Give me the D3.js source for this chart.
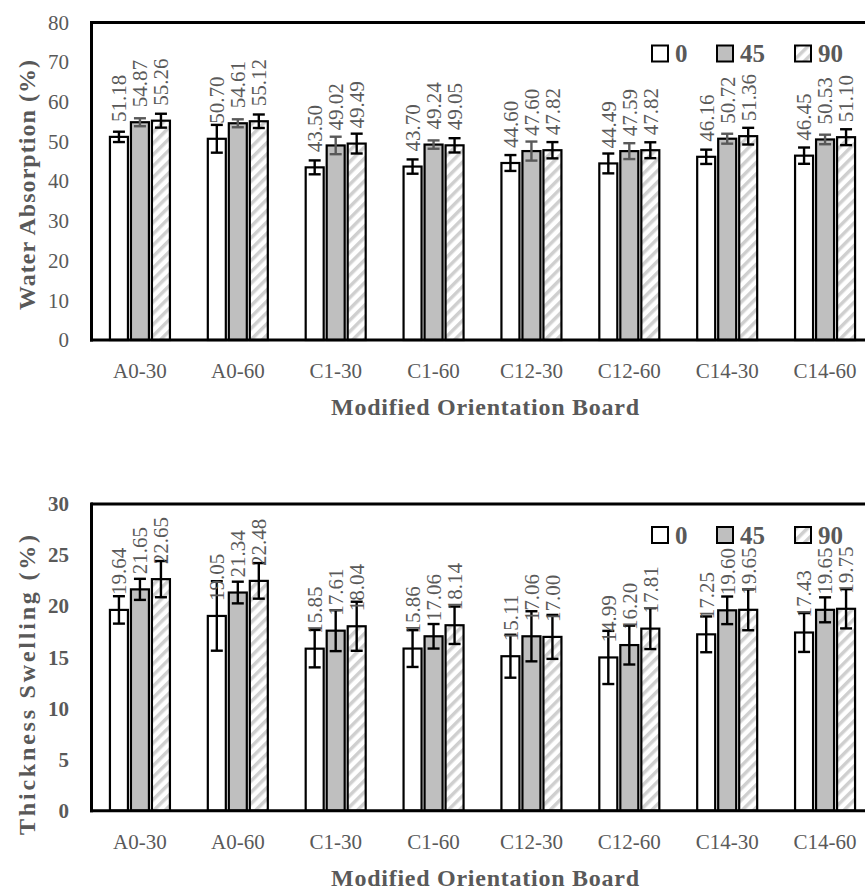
<!DOCTYPE html>
<html>
<head>
<meta charset="utf-8">
<script src="https://cdn.jsdelivr.net/npm/d3@7"></script>
<style>
body { margin: 0; background: #fff; }
svg { display: block; }
</style>
</head>
<body>
<svg id="chart" width="865" height="890"></svg>
<script>
'use strict';

var categories = ["A0-30", "A0-60", "C1-30", "C1-60", "C12-30", "C12-60", "C14-30", "C14-60"];
var series = ["0", "45", "90"];

// water absorption (%)
var water0   = [51.18, 50.70, 43.50, 43.70, 44.60, 44.49, 46.16, 46.45];
var water45  = [54.87, 54.61, 49.02, 49.24, 47.60, 47.59, 50.72, 50.53];
var water90  = [55.26, 55.12, 49.49, 49.05, 47.82, 47.82, 51.36, 51.10];
var waterErr0  = [1.3, 3.5, 1.75, 1.8, 2.0, 2.5, 1.8, 2.05];
var waterErr45 = [1.0, 1.0, 2.2, 1.05, 2.4, 2.0, 1.25, 1.2];
var waterErr90 = [1.75, 1.7, 2.5, 1.8, 2.05, 2.0, 2.1, 2.0];
var waterTicks = [0, 10, 20, 30, 40, 50, 60, 70, 80];

// thickness swelling (%)
var swell0   = [19.64, 19.05, 15.85, 15.86, 15.11, 14.99, 17.25, 17.43];
var swell45  = [21.65, 21.34, 17.61, 17.06, 17.06, 16.20, 19.60, 19.65];
var swell90  = [22.65, 22.48, 18.04, 18.14, 17.00, 17.81, 19.65, 19.75];
var swellErr0  = [1.34, 3.4, 1.83, 1.8, 2.1, 2.6, 1.75, 1.9];
var swellErr45 = [1.03, 1.06, 2.0, 1.2, 2.45, 1.9, 1.35, 1.22];
var swellErr90 = [1.77, 1.74, 2.4, 1.83, 2.15, 2.0, 2.0, 1.92];
var swellTicks = [0, 5, 10, 15, 20, 25, 30];

var FONT = "'Liberation Serif', 'Times New Roman', serif",
    GREY = "#595959",
    fills = ["#ffffff", "#bfbfbf", "url(#hatch)"];

var svg = d3.select("#chart");

// diagonal hatch for the 90 series
var pat = svg.append("defs").append("pattern")
    .attr("id", "hatch")
    .attr("patternUnits", "userSpaceOnUse")
    .attr("width", 8).attr("height", 8)
    .attr("patternTransform", "rotate(45)");
pat.append("rect").attr("width", 8).attr("height", 8).attr("fill", "#fff");
pat.append("rect").attr("width", 3.5).attr("height", 8).attr("fill", "#cfcfcf");

function bar_chart(o) {
    var g = svg.append("g"),
        x0 = d3.scaleBand().domain(categories).range([91, 874]),
        x1 = d3.scaleBand().domain(series).range([0, 60]).paddingInner(1/7),
        y  = d3.scaleLinear().domain([0, o.ticks[o.ticks.length-1]]).range([o.bottom, o.top]);

    var rows = [];
    categories.forEach(function(c, i){
        series.forEach(function(s, j){
            rows.push({cat: c, s: s, j: j, v: o.values[j][i], e: o.errors[j][i]});
        });
    });
    function cx(d){ return x0(d.cat) + x0.bandwidth()/2 - 30 + x1(d.s) + x1.bandwidth()/2; }

    // bars
    g.selectAll("rect.bar").data(rows).enter().append("rect")
        .attr("class", "bar")
        .attr("x", function(d){ return cx(d) - x1.bandwidth()/2; })
        .attr("width", x1.bandwidth())
        .attr("y", function(d){ return y(d.v); })
        .attr("height", function(d){ return y(0) - y(d.v); })
        .attr("fill", function(d){ return fills[d.j]; })
        .attr("stroke", "#000")
        .attr("stroke-width", 2.2);

    // error bars
    var eb = g.selectAll("g.err").data(rows).enter().append("g")
        .attr("stroke", function(d){ return o.errColors[d.j]; })
        .attr("stroke-width", 2.4);
    eb.append("line")
        .attr("x1", cx).attr("x2", cx)
        .attr("y1", function(d){ return y(d.v + d.e); })
        .attr("y2", function(d){ return y(d.v - d.e); });
    [1, -1].forEach(function(sgn){
        eb.append("line")
            .attr("x1", function(d){ return cx(d) - 6; })
            .attr("x2", function(d){ return cx(d) + 6; })
            .attr("y1", function(d){ return y(d.v + sgn*d.e); })
            .attr("y2", function(d){ return y(d.v + sgn*d.e); });
    });

    // value labels
    g.selectAll("text.val").data(rows).enter().append("text")
        .attr("transform", function(d){ return "translate(" + cx(d) + "," + (y(d.v) - 15) + ") rotate(-90)"; })
        .attr("dy", "0.35em")
        .attr("font-family", FONT)
        .attr("font-size", 21)
        .attr("fill", GREY)
        .text(function(d){ return d.v.toFixed(2); });

    // frame
    g.append("line").attr("x1", 91).attr("x2", 874).attr("y1", o.top).attr("y2", o.top)
        .attr("stroke", "#000").attr("stroke-width", 3);
    g.append("line").attr("x1", 91.5).attr("x2", 91.5).attr("y1", o.top - 1.5).attr("y2", o.bottom + 1.5)
        .attr("stroke", "#000").attr("stroke-width", 3);
    g.append("line").attr("x1", 90).attr("x2", 874).attr("y1", o.bottom).attr("y2", o.bottom)
        .attr("stroke", "#000").attr("stroke-width", 3);

    // y axis labels
    var ya = g.append("g").attr("transform", "translate(91,0)")
        .call(d3.axisLeft(y).tickValues(o.ticks).tickSize(0).tickPadding(22));
    ya.select(".domain").remove();
    ya.selectAll("text")
        .attr("font-family", FONT).attr("font-size", 21)
        .attr("font-weight", o.boldTicks ? "bold" : "normal")
        .attr("fill", GREY);

    // x axis labels
    var xa = g.append("g").attr("transform", "translate(0," + o.bottom + ")")
        .call(d3.axisBottom(x0).tickSize(0).tickPadding(23));
    xa.select(".domain").remove();
    xa.selectAll("text")
        .attr("font-family", FONT).attr("font-size", 21).attr("fill", GREY);

    // titles
    g.append("text")
        .attr("transform", "translate(35," + o.yTitleMid + ") rotate(-90)")
        .attr("text-anchor", "middle")
        .attr("font-family", FONT).attr("font-size", 24).attr("font-weight", "bold")
        .attr("fill", GREY)
        .attr("textLength", o.yTitleLen).attr("lengthAdjust", "spacing")
        .text(o.yTitle);
    g.append("text")
        .attr("x", 485).attr("y", o.bottom + 75)
        .attr("text-anchor", "middle")
        .attr("font-family", FONT).attr("font-size", 24).attr("font-weight", "bold")
        .attr("fill", GREY)
        .attr("textLength", 308).attr("lengthAdjust", "spacing")
        .text("Modified Orientation Board");

    // legend
    var lx = [652, 717, 795];
    var lg = g.selectAll("g.leg").data(series).enter().append("g")
        .attr("transform", function(d, i){ return "translate(" + lx[i] + "," + (o.top + 23) + ")"; });
    lg.append("rect")
        .attr("width", 16).attr("height", 16)
        .attr("fill", function(d, i){ return fills[i]; })
        .attr("stroke", "#000").attr("stroke-width", 2);
    lg.append("text")
        .attr("x", 23).attr("y", 16.5)
        .attr("font-family", FONT).attr("font-size", 25).attr("font-weight", "bold")
        .attr("fill", GREY)
        .text(function(d){ return d; });
}

bar_chart({
    top: 22.5, bottom: 340,
    ticks: waterTicks,
    values: [water0, water45, water90],
    errors: [waterErr0, waterErr45, waterErr90],
    errColors: ["#000", "#595959", "#000"],
    boldTicks: false,
    yTitle: "Water Absorption (%)", yTitleMid: 185, yTitleLen: 250
});

bar_chart({
    top: 504, bottom: 810.7,
    ticks: swellTicks,
    values: [swell0, swell45, swell90],
    errors: [swellErr0, swellErr45, swellErr90],
    errColors: ["#000", "#000", "#000"],
    boldTicks: true,
    yTitle: "Thickness Swelling (%)", yTitleMid: 685, yTitleLen: 300
});
</script>
</body>
</html>
